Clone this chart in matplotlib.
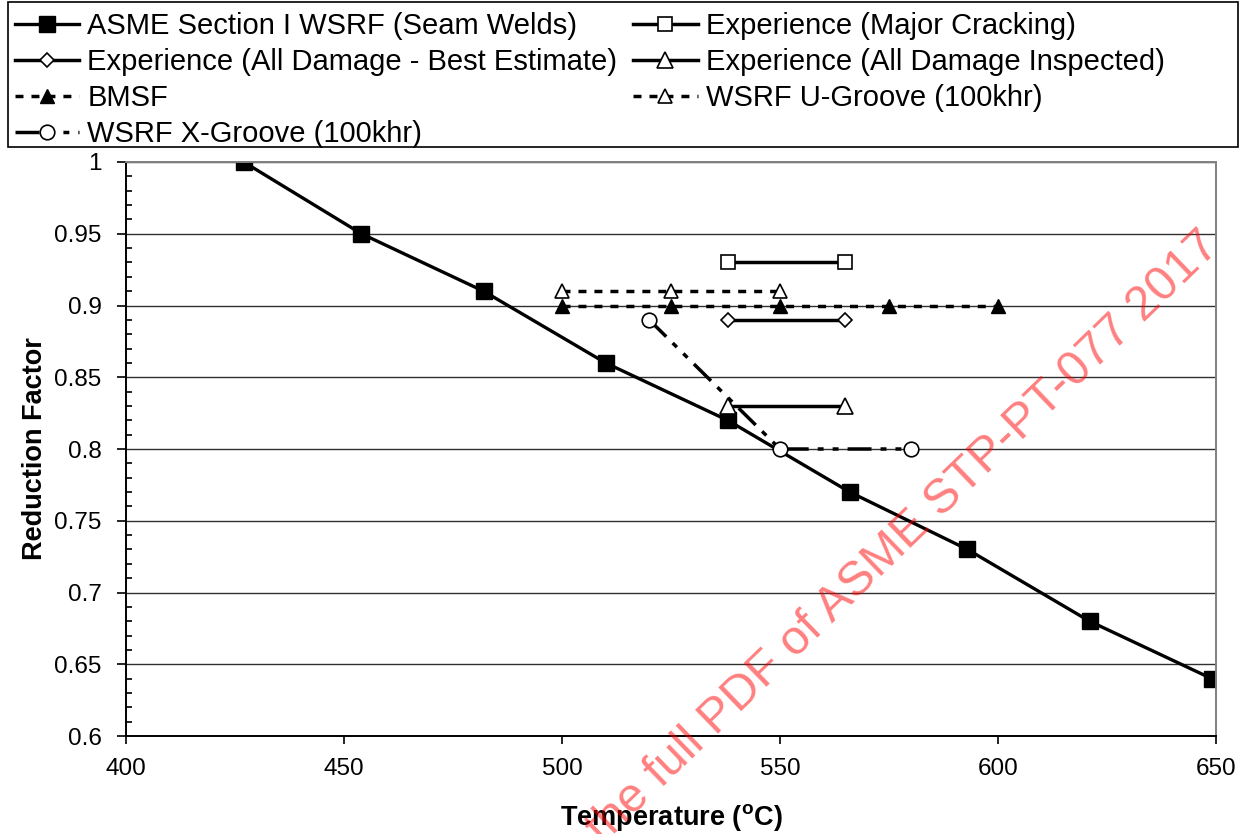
import matplotlib
matplotlib.use('Agg')
import matplotlib.pyplot as plt
from matplotlib.patches import Rectangle
from matplotlib.ticker import MultipleLocator, FuncFormatter

plt.rcParams['font.family'] = 'Liberation Sans'
plt.rcParams['mathtext.fontset'] = 'custom'
plt.rcParams['mathtext.rm'] = 'Liberation Sans'
plt.rcParams['mathtext.bf'] = 'Liberation Sans:bold'

# ASME Section I WSRF for seam welds
asme_temp = [427, 454, 482, 510, 538, 566, 593, 621, 649]
asme_rf = [1.0, 0.95, 0.91, 0.86, 0.82, 0.77, 0.73, 0.68, 0.64]

# service experience bands
major_temp = [538, 565]
major_rf = [0.93, 0.93]
best_temp = [538, 565]
best_rf = [0.89, 0.89]
insp_temp = [538, 565]
insp_rf = [0.83, 0.83]

# base metal strength factor and groove WSRFs
bmsf_temp = [500, 525, 550, 575, 600]
bmsf_rf = [0.90, 0.90, 0.90, 0.90, 0.90]
ugroove_temp = [500, 525, 550]
ugroove_rf = [0.91, 0.91, 0.91]
xgroove_temp = [520, 550, 580]
xgroove_rf = [0.89, 0.80, 0.80]

xticks = [400, 450, 500, 550, 600, 650]
yticks = [0.6, 0.65, 0.7, 0.75, 0.8, 0.85, 0.9, 0.95, 1.0]

W, H = 1246, 834
fig = plt.figure(figsize=(W / 100, H / 100), dpi=100)
ax = fig.add_axes([126 / W, 1 - 736 / H, 1090 / W, 574 / H])

lw = 2.5
dashed = (0, (2.3, 2.3))
asme, = ax.plot(asme_temp, asme_rf, 'k-', marker='s', ms=11, mfc='black', lw=2.4)
major, = ax.plot(major_temp, major_rf, 'k-', marker='s', ms=10.5, mfc='white', mew=1.2, lw=lw)
best, = ax.plot(best_temp, best_rf, 'k-', marker='D', ms=7.5, mfc='white', mew=1.2, lw=lw)
insp, = ax.plot(insp_temp, insp_rf, 'k-', marker='^', ms=11, mfc='white', mew=1.2, lw=lw)
bmsf, = ax.plot(bmsf_temp, bmsf_rf, color='black', ls=dashed, marker='^', ms=10,
                mfc='black', lw=lw)
ugroove, = ax.plot(ugroove_temp, ugroove_rf, color='black', ls=dashed, marker='^',
                   ms=10, mfc='white', mew=1.2, lw=lw)
xgroove, = ax.plot(xgroove_temp, xgroove_rf, color='black',
                   ls=(0, (6.9, 2.6, 1.7, 2.6, 1.7, 2.6)), marker='o', ms=10.5,
                   mfc='white', mew=1.2, lw=lw)

ax.set_xlim(400, 650)
ax.set_ylim(0.6, 1.0)
ax.set_xticks(xticks)
ax.set_yticks(yticks)
ax.yaxis.set_minor_locator(MultipleLocator(0.01))
ax.yaxis.set_major_formatter(FuncFormatter(lambda v, p: '%g' % round(v, 2)))
ax.tick_params(axis='both', labelsize=17.5, width=1.2, color='black')
ax.tick_params(axis='y', which='major', direction='out', length=6.5, pad=11)
ax.tick_params(axis='y', which='minor', direction='in', length=4.5, width=1.2)
ax.tick_params(axis='x', which='major', direction='out', length=6, pad=10)
ax.grid(axis='y', which='major', color='#303030', lw=1.0)
ax.set_axisbelow(True)
for s in ['left', 'bottom']:
    ax.spines[s].set_linewidth(1.4)
for s in ['top', 'right']:
    ax.spines[s].set_color('#808080')
    ax.spines[s].set_linewidth(1.4)

ax.set_xlabel(r'Temperature ($^{\mathbf{o}}$C)', fontsize=19.5, fontweight='bold')
ax.set_ylabel('Reduction Factor', fontsize=19.5, fontweight='bold')
ax.xaxis.set_label_coords(0.5, -0.115)
ax.yaxis.set_label_coords(-0.072, 0.5)

handles = [asme, best, bmsf, xgroove, major, insp, ugroove]
labels = ['ASME Section I WSRF (Seam Welds)',
          'Experience (All Damage - Best Estimate)',
          'BMSF',
          'WSRF X-Groove (100khr)',
          'Experience (Major Cracking)',
          'Experience (All Damage Inspected)',
          'WSRF U-Groove (100khr)']
fig.legend(handles, labels, loc='upper left', bbox_to_anchor=(15 / W, 1 - 12 / H),
           ncol=2, frameon=False, fontsize=21, borderpad=0, borderaxespad=0,
           handlelength=2.2, handletextpad=0.28, labelspacing=0.28, columnspacing=0.55)
fig.add_artist(Rectangle((8 / W, 1 - 147 / H), 1230 / W, 145 / H, transform=fig.transFigure,
                         fill=False, ec='black', lw=1.2))

# watermark from the source document
fig.text(603 / W, 1 - 845 / H, 'the full PDF of ASME STP-PT-077 2017', rotation=44,
         rotation_mode='anchor', ha='left', va='baseline', fontsize=35, color='red',
         alpha=0.5, zorder=10)

fig.savefig('out.png', dpi=100)
